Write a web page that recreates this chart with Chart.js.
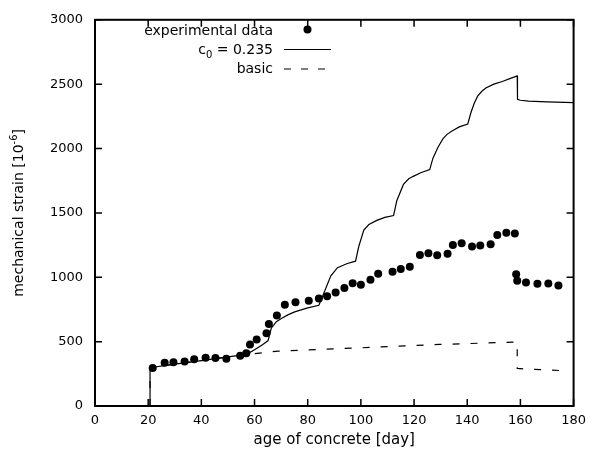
<!DOCTYPE html>
<html>
<head>
<meta charset="utf-8">
<script src="https://cdn.jsdelivr.net/npm/chart.js@4.4.1/dist/chart.umd.min.js"></script>
<style>
  html, body { margin: 0; padding: 0; background: #fff; }
  canvas { display: block; }
</style>
</head>
<body>
<canvas id="chart" width="593" height="461"></canvas>
<script>
// measured data
const expDay = [21.7, 26.2, 29.5, 33.7, 37.3, 41.6, 45.3, 49.4, 54.6, 56.9, 58.3, 60.8, 64.5, 65.4, 68.4, 71.4, 75.4, 80.4, 84.2, 87.3,
  90.5, 93.8, 96.9, 100.0, 103.6, 106.5, 111.9, 115.0, 118.4, 122.2, 125.4, 128.7, 132.6, 134.6, 137.9, 141.8, 144.9, 148.8, 151.3, 154.7,
  157.9, 158.4, 158.8, 162.1, 166.4, 170.5, 174.3];
const expStrain = [295, 335, 340, 345, 363, 375, 373, 368, 391, 409, 478, 516, 566, 637, 703, 787, 805, 817, 835, 853,
  881, 916, 954, 942, 980, 1028, 1043, 1064, 1081, 1173, 1186, 1171, 1183, 1251, 1264, 1239, 1247, 1257, 1328, 1346,
  1340, 1023, 973, 960, 950, 952, 937];

// model, c0 = 0.235
const c0Day = [20.7, 20.7, 30, 40, 50, 57, 60, 63, 65.1, 66.3, 68.2, 70.1, 72.5, 75.1, 80, 84.2, 86.2, 88.7, 91.2, 94.9,
  98, 99.2, 101.1, 103, 106, 109, 112.3, 113.5, 116, 118, 119.7, 122.5, 125.9, 127.1, 129, 130.9, 132.5, 134.6, 137, 140.2,
  141.4, 142.6, 143.9, 145.5, 147, 150, 153.2, 156, 158.8, 158.9, 160, 163.1, 170, 180];
const c0Strain = [0, 297, 325, 353, 381, 401, 437, 476, 508, 604, 655, 680, 708, 731, 762, 782, 883, 1011, 1074, 1107,
  1125, 1239, 1366, 1410, 1442, 1465, 1480, 1594, 1721, 1765, 1784, 1812, 1836, 1925, 2010, 2077, 2112, 2140, 2168, 2191,
  2280, 2350, 2407, 2445, 2470, 2500, 2521, 2543, 2564, 2382, 2375, 2369, 2362, 2356];

// basic model
const basicDay = [20.7, 20.7, 30, 40, 50, 57, 68.8, 100, 129.6, 158.8, 158.8, 161.2, 170, 176.7];
const basicStrain = [0, 297, 325, 353, 381, 401, 426, 452, 478, 497, 292, 288, 280, 274];

const xTickValues = [0, 20, 40, 60, 80, 100, 120, 140, 160, 180];
const yTickValues = [0, 500, 1000, 1500, 2000, 2500, 3000];

const FONT = '"DejaVu Sans", sans-serif';

const toPoints = (xs, ys) => xs.map((x, i) => ({x: x, y: ys[i]}));

// text with sub/superscripts: parts = [text, size, dy]
function drawRich(ctx, parts, x, y, align) {
  let w = 0;
  parts.forEach(p => { ctx.font = p[1] + 'px ' + FONT; w += ctx.measureText(p[0]).width; });
  let cx = align === 'right' ? x - w : align === 'center' ? x - w / 2 : x;
  ctx.textAlign = 'left';
  ctx.textBaseline = 'alphabetic';
  parts.forEach(p => {
    ctx.font = p[1] + 'px ' + FONT;
    ctx.fillText(p[0], cx, y + p[2]);
    cx += ctx.measureText(p[0]).width;
  });
}

// gnuplot style box with inward ticks on all sides
const frameAndTicks = {
  id: 'frameAndTicks',
  afterDatasetsDraw(chart) {
    const {ctx, chartArea: a, scales: {x, y}} = chart;
    ctx.save();
    ctx.strokeStyle = '#000';
    ctx.lineWidth = 1.5;
    ctx.beginPath();
    xTickValues.forEach(v => {
      const px = x.getPixelForValue(v);
      ctx.moveTo(px, a.bottom); ctx.lineTo(px, a.bottom - 7);
      ctx.moveTo(px, a.top); ctx.lineTo(px, a.top + 7);
    });
    yTickValues.forEach(v => {
      const py = y.getPixelForValue(v);
      ctx.moveTo(a.left, py); ctx.lineTo(a.left + 7, py);
      ctx.moveTo(a.right, py); ctx.lineTo(a.right - 7, py);
    });
    ctx.stroke();
    ctx.lineWidth = 2;
    ctx.strokeRect(a.left, a.top, a.right - a.left, a.bottom - a.top);
    ctx.restore();
  }
};

// key in the top left corner + rotated y label
const keyAndLabel = {
  id: 'keyAndLabel',
  afterDraw(chart) {
    const ctx = chart.ctx;
    const textRight = 273, x1 = 284, x2 = 331;
    ctx.save();
    ctx.fillStyle = '#000';
    ctx.strokeStyle = '#000';

    drawRich(ctx, [['experimental data', 14, 0]], textRight, 34.5, 'right');
    ctx.beginPath();
    ctx.arc((x1 + x2) / 2, 29.5, 4, 0, Math.PI * 2);
    ctx.fill();

    drawRich(ctx, [['c', 14, 0], ['0', 10, 4], [' = 0.235', 14, 0]], textRight, 53.5, 'right');
    ctx.lineWidth = 1.2;
    ctx.beginPath();
    ctx.moveTo(x1, 49.5); ctx.lineTo(x2, 49.5);
    ctx.stroke();

    drawRich(ctx, [['basic', 14, 0]], textRight, 73, 'right');
    ctx.setLineDash([7, 10]);
    ctx.beginPath();
    ctx.moveTo(x1, 69); ctx.lineTo(x2, 69);
    ctx.stroke();
    ctx.setLineDash([]);

    const a = chart.chartArea;
    ctx.translate(23, (a.top + a.bottom) / 2);
    ctx.rotate(-Math.PI / 2);
    drawRich(ctx, [['mechanical strain [10', 14, 0], ['-6', 10, -6], [']', 14, 0]], 0, 0, 'center');
    ctx.restore();
  }
};

const tickFont = {family: FONT, size: 13};
const plainNumber = v => String(v);

new Chart(document.getElementById('chart'), {
  type: 'scatter',
  data: {
    datasets: [
      {
        label: 'experimental data',
        data: toPoints(expDay, expStrain),
        showLine: false,
        pointRadius: 4,
        pointBorderWidth: 0,
        pointBackgroundColor: '#000'
      },
      {
        label: 'c0 = 0.235',
        data: toPoints(c0Day, c0Strain),
        showLine: true,
        borderColor: '#000',
        borderWidth: 1.2,
        pointRadius: 0,
        tension: 0
      },
      {
        label: 'basic',
        data: toPoints(basicDay, basicStrain),
        showLine: true,
        borderColor: '#000',
        borderWidth: 1.2,
        borderDash: [7, 11],
        pointRadius: 0,
        tension: 0
      }
    ]
  },
  options: {
    responsive: false,
    animation: false,
    layout: {padding: {top: 12, right: 14, left: 0, bottom: 0}},
    plugins: {legend: {display: false}, tooltip: {enabled: false}},
    scales: {
      x: {
        type: 'linear', min: 0, max: 180,
        grid: {display: false, drawTicks: false},
        border: {display: false},
        ticks: {padding: 7, font: tickFont, color: '#000', maxRotation: 0, autoSkip: false, callback: plainNumber},
        afterBuildTicks: s => { s.ticks = xTickValues.map(v => ({value: v})); },
        afterFit: s => { s.height = 55; },
        title: {display: true, text: 'age of concrete [day]', color: '#000',
          font: {family: FONT, size: 15}, padding: {top: 0, bottom: 12}}
      },
      y: {
        type: 'linear', min: 0, max: 3000,
        grid: {display: false, drawTicks: false},
        border: {display: false},
        ticks: {padding: 12, font: tickFont, color: '#000', autoSkip: false, callback: plainNumber},
        afterBuildTicks: s => { s.ticks = yTickValues.map(v => ({value: v})); },
        afterFit: s => { s.width = 95; }
      }
    }
  },
  plugins: [frameAndTicks, keyAndLabel]
});
</script>
</body>
</html>
